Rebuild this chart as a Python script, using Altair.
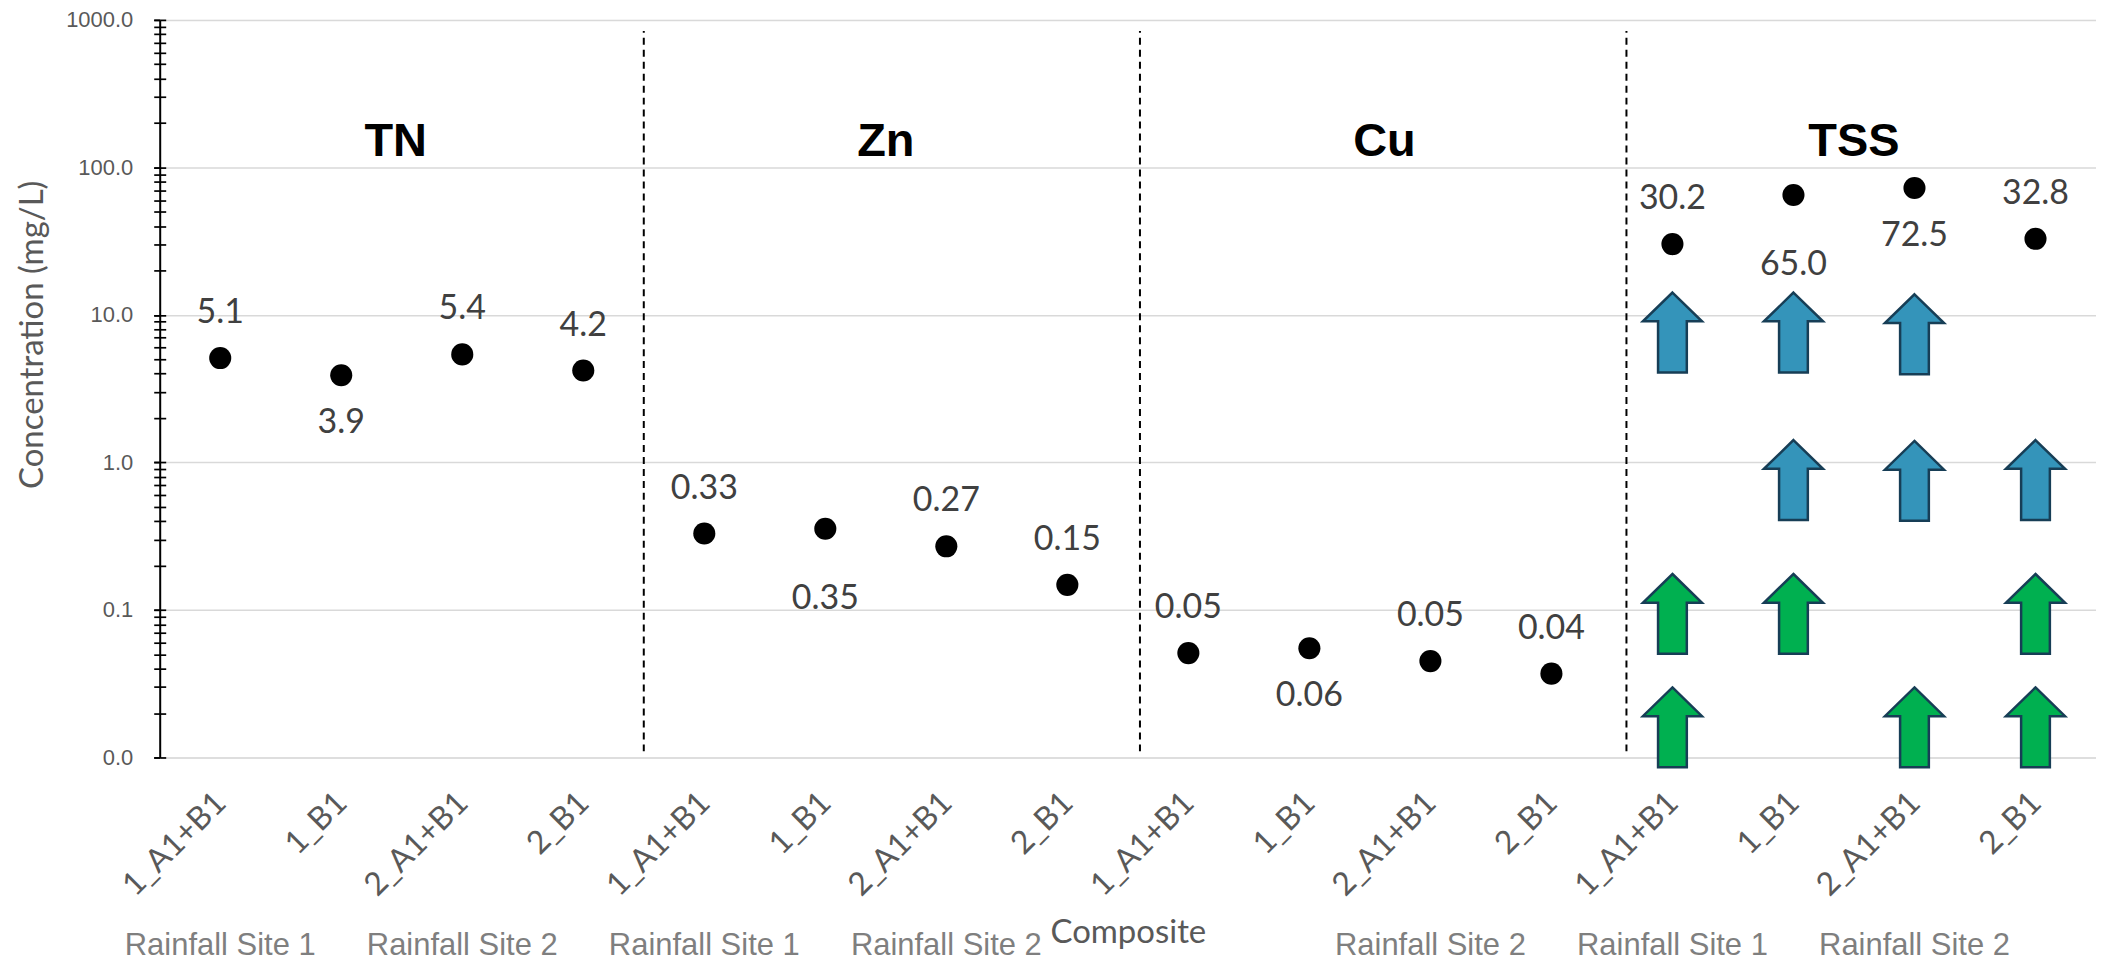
import altair as alt
import pandas as pd

# ---------------- data ----------------
groups = ["TN", "Zn", "Cu", "TSS"]
composites = ["1_A1+B1", "1_B1", "2_A1+B1", "2_B1"]

tn_values = [5.1, 3.9, 5.4, 4.2]
zn_values = [0.33, 0.355, 0.27, 0.148]
cu_values = [0.051, 0.055, 0.045, 0.037]
tss_values = [30.2, 65.0, 72.5, 32.8]

tn_labels = ["5.1", "3.9", "5.4", "4.2"]
zn_labels = ["0.33", "0.35", "0.27", "0.15"]
cu_labels = ["0.05", "0.06", "0.05", "0.04"]
tss_labels = ["30.2", "65.0", "72.5", "32.8"]

tn_sides = ["above", "below", "above", "above"]
zn_sides = ["above", "far", "above", "above"]
cu_sides = ["above", "below", "above", "above"]
tss_sides = ["above", "far", "below", "above"]

# group separators (category index units) and group title positions
divider_x = [3.5, 7.6, 11.62]
divider_low = 0.011
divider_high = 840
title_x = [1.45, 5.5, 9.62, 13.5]
title_level = 120

# rainfall site labels under the axis
site_idx = [0, 2, 4, 6, 10, 12, 14]
site_text = ["Rainfall Site 1", "Rainfall Site 2", "Rainfall Site 1", "Rainfall Site 2",
             "Rainfall Site 2", "Rainfall Site 1", "Rainfall Site 2"]

# arrows in the TSS panel
arrow_idx = [12, 13, 14, 13, 14, 15, 12, 13, 15, 12, 14, 15]
arrow_level = [7.6, 7.6, 7.4, 0.76, 0.75, 0.76, 0.094, 0.094, 0.094, 0.016, 0.016, 0.016]
arrow_kind = ["blue", "blue", "blue", "blue", "blue", "blue",
              "green", "green", "green", "green", "green", "green"]

decades = [0.01, 0.1, 1, 10, 100, 1000]

# ---------------- tables ----------------
all_values = tn_values + zn_values + cu_values + tss_values
all_labels = tn_labels + zn_labels + cu_labels + tss_labels
all_sides = tn_sides + zn_sides + cu_sides + tss_sides
cat_names = composites * len(groups)

points_df = pd.DataFrame({
    "idx": list(range(len(all_values))),
    "value": all_values,
    "label": all_labels,
    "side": all_sides,
})
div_df = pd.DataFrame({"x": divider_x, "lo": [divider_low] * 3, "hi": [divider_high] * 3})
title_df = pd.DataFrame({"x": title_x, "y": [title_level] * 4, "t": groups})
site_df = pd.DataFrame({"x": site_idx, "t": site_text})
arrow_df = pd.DataFrame({"x": arrow_idx, "y": arrow_level, "kind": arrow_kind})

minor_ticks = []
for d in decades[:-1]:
    for k in range(1, 10):
        minor_ticks.append(round(d * k, 6))
minor_ticks.append(1000)

# ---------------- scales / axes ----------------
x_scale = alt.Scale(domain=[-0.5, 15.5], nice=False, zero=False)
y_scale = alt.Scale(type="log", domain=[0.01, 1000], nice=False)

label_expr = "split('" + ",".join(cat_names) + "', ',')[datum.value]"

x_axis = alt.Axis(
    values=list(range(16)), labelExpr=label_expr,
    labelAngle=-45, labelAlign="right", labelBaseline="middle", labelPadding=40,
    labelFont="Lato", labelFontSize=32, labelColor="#595959",
    labelFlush=False, labelOverlap=False,
    ticks=False, domain=False, grid=False,
    title="Composite", titleFont="Lato", titleFontSize=33, titleColor="#595959",
    titleFontWeight="normal", titleBaseline="alphabetic", titleY=185,
)

y_axis_main = alt.Axis(
    values=decades, labelExpr="format(datum.value, '.1f')",
    labelFont="Liberation Sans", labelFontSize=22, labelColor="#595959", labelPadding=21,
    labelOverlap=False,
    grid=True, gridColor="#d9d9d9", gridWidth=1.5,
    ticks=True, tickSize=6, tickColor="black", tickWidth=1.7,
    domain=True, domainColor="black", domainWidth=2,
    title="Concentration (mg/L)", titleFont="Lato", titleFontSize=33, titleColor="#595959",
    titleFontWeight="normal", titleBaseline="alphabetic", titleX=-117, titleY=315,
    orient="left",
)
y_axis_out = alt.Axis(
    values=minor_ticks, labels=False, grid=False, domain=False, title=None,
    ticks=True, tickSize=6, tickColor="black", tickWidth=1.7, orient="left",
)
y_axis_in = alt.Axis(
    values=minor_ticks, labels=False, grid=False, domain=False, title=None,
    ticks=True, tickSize=6, tickColor="black", tickWidth=1.7, orient="left", offset=-6,
)

# ---------------- layers ----------------
points = alt.Chart(points_df).mark_circle(size=490, color="black", opacity=1).encode(
    x=alt.X("idx:Q", scale=x_scale, axis=x_axis),
    y=alt.Y("value:Q", scale=y_scale, axis=y_axis_main),
)

lab_common = dict(font="Lato", fontSize=34, color="#404040", baseline="middle", align="center")

labels_above = alt.Chart(points_df).transform_filter("datum.side == 'above'").mark_text(
    dy=-45, **lab_common).encode(
    x=alt.X("idx:Q", scale=x_scale),
    y=alt.Y("value:Q", scale=y_scale, axis=y_axis_out),
    text="label:N",
)
labels_below = alt.Chart(points_df).transform_filter("datum.side == 'below'").mark_text(
    dy=48, **lab_common).encode(
    x=alt.X("idx:Q", scale=x_scale),
    y=alt.Y("value:Q", scale=y_scale, axis=y_axis_in),
    text="label:N",
)
labels_far = alt.Chart(points_df).transform_filter("datum.side == 'far'").mark_text(
    dy=70, **lab_common).encode(
    x=alt.X("idx:Q", scale=x_scale),
    y=alt.Y("value:Q", scale=y_scale, axis=None),
    text="label:N",
)

dividers = alt.Chart(div_df).mark_rule(color="black", strokeWidth=2, strokeDash=[7, 5]).encode(
    x=alt.X("x:Q", scale=x_scale),
    y=alt.Y("lo:Q", scale=y_scale, axis=None),
    y2="hi:Q",
)

titles = alt.Chart(title_df).mark_text(
    font="Liberation Sans", fontWeight="bold", fontSize=47, color="black",
    baseline="alphabetic", align="center").encode(
    x=alt.X("x:Q", scale=x_scale),
    y=alt.Y("y:Q", scale=y_scale, axis=None),
    text="t:N",
)

arrow_path = "M0,-1 L0.74,-0.28 L0.36,-0.28 L0.36,1 L-0.36,1 L-0.36,-0.28 L-0.74,-0.28 Z"
arrows = alt.Chart(arrow_df).mark_point(
    shape=arrow_path, size=6400, filled=True, opacity=1,
    stroke="#173E56", strokeWidth=2.5, strokeOpacity=1).encode(
    x=alt.X("x:Q", scale=x_scale),
    y=alt.Y("y:Q", scale=y_scale, axis=None),
    fill=alt.Fill("kind:N", scale=alt.Scale(domain=["blue", "green"], range=["#3494BA", "#00B050"]),
                  legend=None),
)

sites = alt.Chart(site_df).mark_text(
    font="Liberation Sans", fontSize=31, color="#7f7f7f", baseline="alphabetic", align="center").encode(
    x=alt.X("x:Q", scale=x_scale),
    y=alt.value(937),
    text="t:N",
)

chart = alt.layer(
    points, dividers, labels_above, labels_below, labels_far, titles, arrows, sites
).resolve_axis(y="independent").properties(
    width=1940, height=739,
    autosize=alt.AutoSizeParams(type="none"),
    padding={"left": 152, "top": 11, "right": 0, "bottom": 205},
).configure_view(stroke=None).configure(background="white")

chart.save("out.html", embed_options={"renderer": "svg", "actions": False})
